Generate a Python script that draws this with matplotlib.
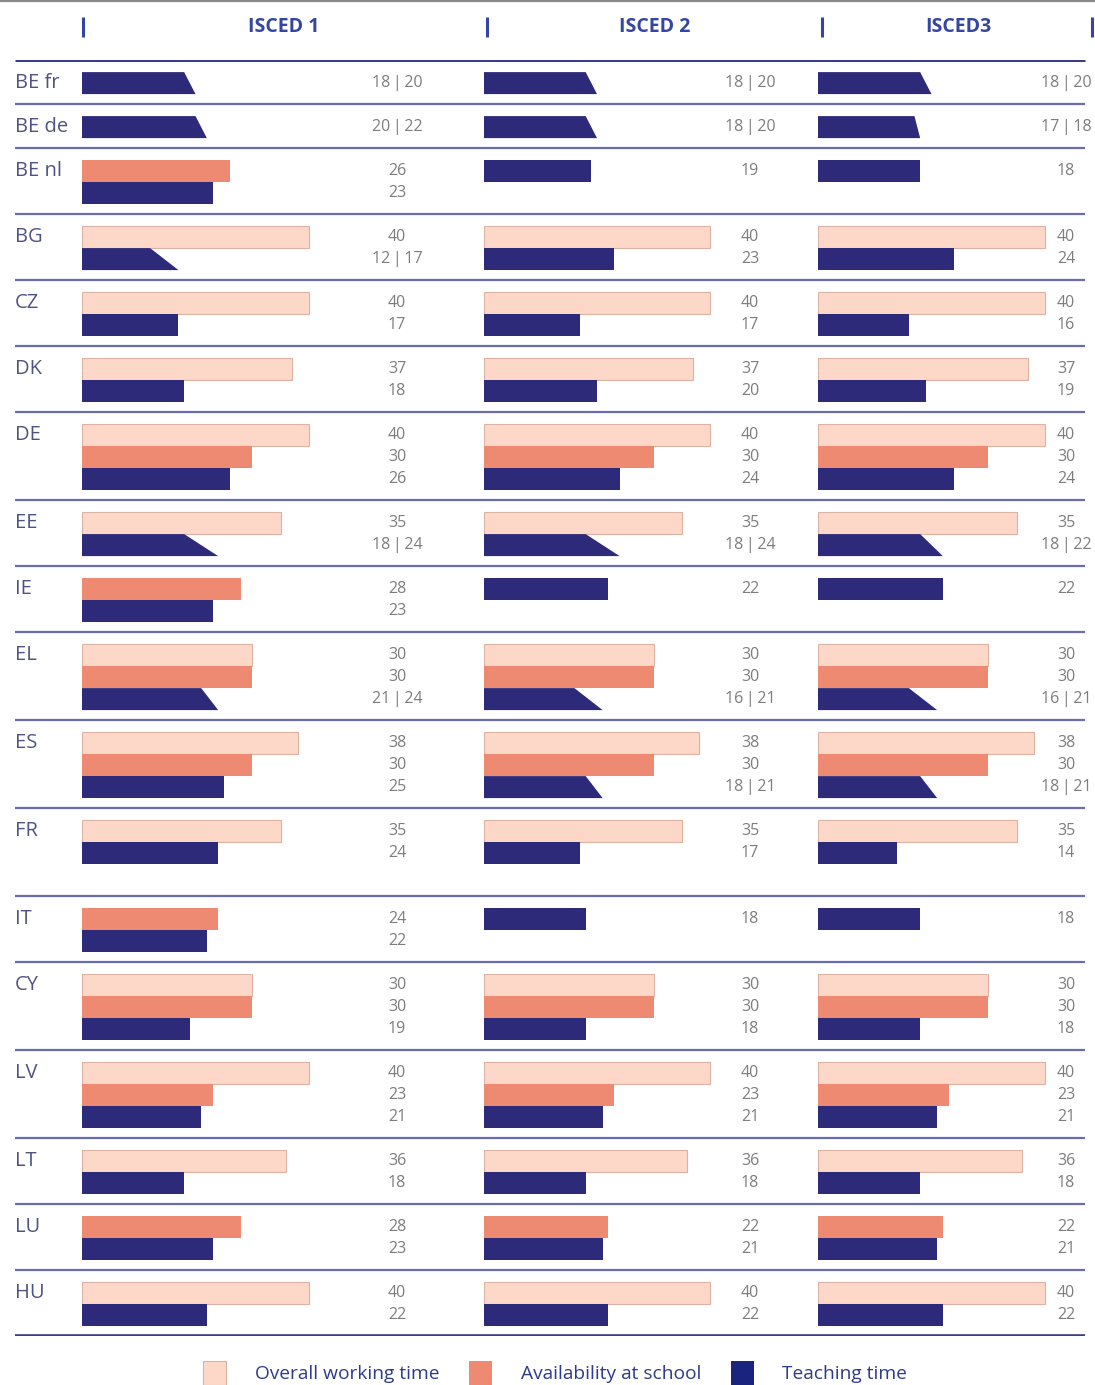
import matplotlib.pyplot as plt
from matplotlib.patches import Patch
from matplotlib.lines import Line2D

plt.rcParams['font.family'] = ['Open Sans', 'DejaVu Sans']

COUNTRIES = ["BE fr", "BE de", "BE nl", "BG", "CZ", "DK", "DE", "EE", "IE",
             "EL", "ES", "FR", "IT", "CY", "LV", "LT", "LU", "HU"]
LEVELS = ["ISCED 1", "ISCED 2", "ISCED3"]

# hours per week, None = not applicable
OVERALL_1 = [None, None, None, 40, 40, 37, 40, 35, None, 30, 38, 35, None, 30, 40, 36, None, 40]
AVAIL_1 = [None, None, 26, None, None, None, 30, None, 28, 30, 30, None, 24, 30, 23, None, 28, None]
TEACH_LO_1 = [18, 20, 23, 12, 17, 18, 26, 18, 23, 21, 25, 24, 22, 19, 21, 18, 23, 22]
TEACH_HI_1 = [20, 22, None, 17, None, None, None, 24, None, 24, None, None, None, None, None, None, None, None]

OVERALL_2 = [None, None, None, 40, 40, 37, 40, 35, None, 30, 38, 35, None, 30, 40, 36, None, 40]
AVAIL_2 = [None, None, None, None, None, None, 30, None, None, 30, 30, None, None, 30, 23, None, 22, None]
TEACH_LO_2 = [18, 18, 19, 23, 17, 20, 24, 18, 22, 16, 18, 17, 18, 18, 21, 18, 21, 22]
TEACH_HI_2 = [20, 20, None, None, None, None, None, 24, None, 21, 21, None, None, None, None, None, None, None]

OVERALL_3 = [None, None, None, 40, 40, 37, 40, 35, None, 30, 38, 35, None, 30, 40, 36, None, 40]
AVAIL_3 = [None, None, None, None, None, None, 30, None, None, 30, 30, None, None, 30, 23, None, 22, None]
TEACH_LO_3 = [18, 17, 18, 24, 16, 19, 24, 18, 22, 16, 18, 14, 18, 18, 21, 18, 21, 22]
TEACH_HI_3 = [20, 18, None, None, None, None, None, 22, None, 21, 21, None, None, None, None, None, None, None]

# number of bar lines each country row reserves
ROW_LINES = [1, 1, 2, 2, 2, 2, 3, 2, 2, 3, 3, 3, 2, 3, 3, 2, 2, 2]

PEACH = "#fdd8c8"
PEACH_EDGE = "#dcb3a2"
SALMON = "#ee8a72"
NAVY = "#2d2a7a"
LINE_COL = "#6a6cb0"
LABEL_COL = "#4f5380"
VALUE_COL = "#7d7d7d"
HEAD_COL = "#3446a0"

W, H = 1095, 1385
fig = plt.figure(figsize=(W / 100, H / 100), dpi=100)

# vertical extent of the table (px from top)
TOP_PX, BOT_PX = 60, 1336
n_units = sum(ROW_LINES) + len(ROW_LINES)
ax_bottom = 1 - BOT_PX / H
ax_height = (BOT_PX - TOP_PX) / H

bg = fig.add_axes([0, ax_bottom, 1, ax_height])
bg.set_xlim(0, W)
bg.set_ylim(n_units, 0)
bg.axis('off')

# panel geometry: left px, px per hour, x range, text x
panels = [
    (82, 5.675, 60, 55.5),
    (484, 5.65, 50, 47.1),
    (818, 5.675, 48, 43.7),
]
data = [
    (OVERALL_1, AVAIL_1, TEACH_LO_1, TEACH_HI_1),
    (OVERALL_2, AVAIL_2, TEACH_LO_2, TEACH_HI_2),
    (OVERALL_3, AVAIL_3, TEACH_LO_3, TEACH_HI_3),
]

row_tops = []
y = 0
for n in ROW_LINES:
    row_tops.append(y)
    y += n + 1

bar_off = 0.55
bar_h = 1.0
VAL_FS = 11.5

for (left, scale, xmax, tx), (overall, avail, lo, hi) in zip(panels, data):
    ax = fig.add_axes([left / W, ax_bottom, xmax * scale / W, ax_height])
    ax.set_xlim(0, xmax)
    ax.set_ylim(n_units, 0)
    ax.axis('off')
    for i, top in enumerate(row_tops):
        k = 0
        yb = top + bar_off
        if overall[i] is not None:
            ax.barh(yb + k, overall[i], height=bar_h, align='edge',
                    color=PEACH, edgecolor=PEACH_EDGE, linewidth=0.8)
            ax.text(tx, yb + k + 0.5, str(overall[i]), ha='center', va='center',
                    fontsize=VAL_FS, color=VALUE_COL)
            k += 1
        if avail[i] is not None:
            ax.barh(yb + k, avail[i], height=bar_h, align='edge',
                    color=SALMON, edgecolor='none')
            ax.text(tx, yb + k + 0.5, str(avail[i]), ha='center', va='center',
                    fontsize=VAL_FS, color=VALUE_COL)
            k += 1
        if hi[i] is None:
            ax.barh(yb + k, lo[i], height=bar_h, align='edge',
                    color=NAVY, edgecolor='none')
            label = str(lo[i])
        else:
            # range: top edge at the minimum, slanted down to the maximum
            ax.fill([0, lo[i], hi[i], 0],
                    [yb + k, yb + k, yb + k + bar_h, yb + k + bar_h],
                    color=NAVY, linewidth=0)
            label = f"{lo[i]}\u2009|\u2009{hi[i]}"
        ax.text(tx, yb + k + 0.5, label, ha='center', va='center',
                fontsize=VAL_FS, color=VALUE_COL)

# country labels and separators
for name, top in zip(COUNTRIES, row_tops):
    bg.text(15, top + bar_off + 0.5, name, ha='left', va='center',
            fontsize=14.5, color=LABEL_COL)
for top in row_tops[1:]:
    bg.plot([15, 1085], [top, top], color=LINE_COL, lw=1.6, solid_capstyle='butt')
bg.plot([15, 1085], [0, 0], color="#3a3d8c", lw=2.2, solid_capstyle='butt')
bg.plot([15, 1085], [n_units, n_units], color="#3a3d8c", lw=2.6, solid_capstyle='butt')

# header
u = 1 / 22  # one px in row units
for xh, name in zip([284, 655, 958], LEVELS):
    bg.text(xh, -33 * u, name, ha='center', va='center', fontsize=14,
            fontweight='bold', color=HEAD_COL, clip_on=False)
for xt in [83, 487, 822, 1092]:
    bg.plot([xt, xt], [-43 * u, -23 * u], color=HEAD_COL, lw=2.2,
            clip_on=False, solid_capstyle='butt')

# thin grey border at the very top
fig.add_artist(Line2D([0, 1], [0.9992, 0.9992], color="#8a8a8a", lw=1.6))

handles = [
    Patch(facecolor=PEACH, edgecolor=PEACH_EDGE, linewidth=0.8),
    Patch(facecolor=SALMON, edgecolor='none'),
    Patch(facecolor="#1a237e", edgecolor='none'),
]
fig.legend(handles, ["Overall working time", "Availability at school", "Teaching time"],
           loc='center', bbox_to_anchor=(0.507, 1 - 1373 / H), ncol=3, frameon=False,
           fontsize=13.8, labelcolor="#2e3a8c", handlelength=1.2, handleheight=1.5,
           handletextpad=1.5, columnspacing=1.55)

fig.savefig("out.png", dpi=100)
